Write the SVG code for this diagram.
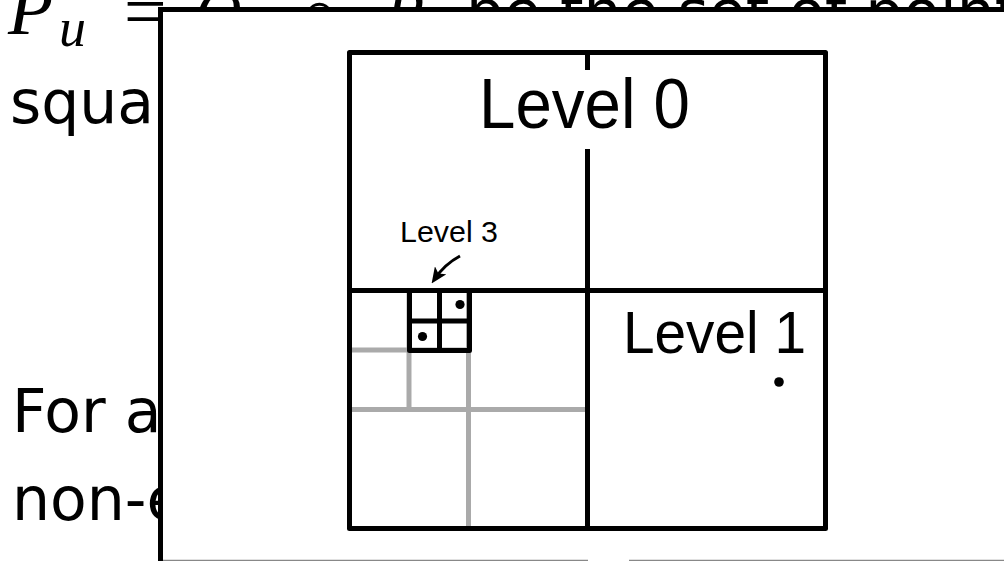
<svg xmlns="http://www.w3.org/2000/svg" width="1004" height="561" viewBox="0 0 1004 561">
  <style>
    .bg { font-family: "DejaVu Sans", sans-serif; font-size: 60px; fill: #000; }
    .math { font-family: "Liberation Serif", "DejaVu Serif", serif; font-style: italic; fill: #000; }
    .lbl { font-family: "Liberation Sans", Arial, sans-serif; fill: #000; }
    .blk { fill: none; stroke: #000; stroke-width: 5; stroke-linecap: round; stroke-linejoin: round; }
    .gry { fill: none; stroke: #aaaaaa; stroke-width: 5; stroke-linecap: butt; }
    .dot { fill: #000; }
  </style>
  <defs>
    <marker id="arrowhead" markerUnits="userSpaceOnUse" markerWidth="16" markerHeight="14" refX="10" refY="7" orient="auto">
      <path d="M0,0 L16,7 L0,14 L4,7 Z" fill="#000"/>
    </marker>
  </defs>

  <rect x="0" y="0" width="1004" height="561" fill="#ffffff"/>

  <!-- background slide text (mostly covered by the panel) -->
  <g id="background-text">
    <text class="math" x="8" y="34" font-size="74">P</text>
    <text class="math" x="59" y="46" font-size="54">u</text>
    <text class="math" x="119" y="37" font-size="76" font-style="normal">=</text>
    <text class="math" x="195" y="33" font-size="64">Q</text>
    <text class="math" x="240" y="45" font-size="44">u</text>
    <text class="math" x="298" y="33" font-size="60" font-style="normal">∩</text>
    <text class="math" x="385" y="33" font-size="64">P</text>
    <text class="bg" x="466" y="33">be the set of points in</text>
    <text class="bg" x="10" y="123">squa</text>
    <text class="bg" x="12" y="432">For a</text>
    <text class="bg" x="12" y="520">non-e</text>
  </g>

  <!-- overlay panel -->
  <g id="panel">
    <rect x="160" y="9" width="900" height="560" fill="#ffffff"/>
    <line x1="160.5" y1="9.5" x2="160.5" y2="561" stroke="#000" stroke-width="5"/>
    <line x1="158" y1="9.5" x2="1004" y2="9.5" stroke="#000" stroke-width="5"/>
    <line x1="163" y1="560.5" x2="588" y2="560.5" stroke="#888888" stroke-width="1.5"/>
    <line x1="629" y1="560.5" x2="1004" y2="560.5" stroke="#888888" stroke-width="1.5"/>
  </g>

  <!-- level 2 (grey subdivision) -->
  <g id="level2">
    <line class="gry" x1="468.5" y1="290.5" x2="468.5" y2="528.5"/>
    <line class="gry" x1="349.5" y1="409.5" x2="587.5" y2="409.5"/>
    <line class="gry" x1="409" y1="290.5" x2="409" y2="409.5"/>
    <line class="gry" x1="349.5" y1="350" x2="468.5" y2="350"/>
  </g>

  <!-- level 0 / level 1 square -->
  <g id="level0">
    <rect class="blk" x="349.5" y="52.5" width="476" height="476"/>
    <line class="blk" x1="587.5" y1="52.5" x2="587.5" y2="528.5"/>
    <rect x="470" y="70" width="236" height="79" fill="#ffffff"/>
    <text class="lbl" x="479" y="128" font-size="70" textLength="211" lengthAdjust="spacingAndGlyphs">Level 0</text>
  </g>

  <g id="level1">
    <line class="blk" x1="349.5" y1="290.5" x2="825.5" y2="290.5"/>
    <text class="lbl" x="623" y="353" font-size="60" textLength="183" lengthAdjust="spacingAndGlyphs">Level 1</text>
    <circle class="dot" cx="779" cy="382" r="4.8"/>
  </g>

  <!-- level 3 box -->
  <g id="level3">
    <rect class="blk" x="409.5" y="290.5" width="60" height="60"/>
    <line class="blk" x1="439.5" y1="290.5" x2="439.5" y2="350.5"/>
    <line class="blk" x1="409.5" y1="321" x2="469.5" y2="321"/>
    <circle class="dot" cx="460" cy="304.5" r="4.6"/>
    <circle class="dot" cx="422.5" cy="336.5" r="4.6"/>
    <text class="lbl" x="400" y="242" font-size="30" textLength="98" lengthAdjust="spacingAndGlyphs">Level 3</text>
  </g>

  <g id="connectors">
    <path d="M460,256 Q445,264 435,278.5" fill="none" stroke="#000" stroke-width="3" marker-end="url(#arrowhead)"/>
  </g>
</svg>
